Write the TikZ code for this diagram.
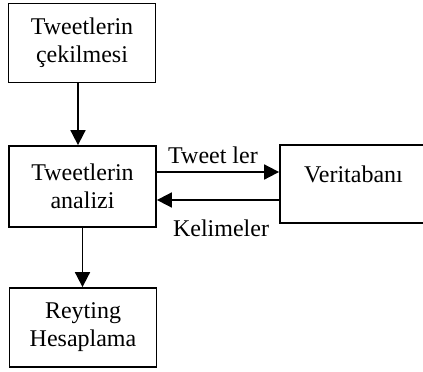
\documentclass[tikz,border=0pt]{standalone}
\usepackage{fontspec}
\setmainfont{Liberation Serif}
\usetikzlibrary{arrows.meta,calc}
\begin{document}
\begin{tikzpicture}[x=1pt,y=-1pt,
  txt/.style={font=\fontsize{24}{28}\selectfont, inner sep=0pt},
  box/.style={draw, line width=1.8pt, minimum width=147pt, minimum height=79pt, align=center, inner sep=0pt, font=\fontsize{24}{28}\selectfont},
  arr/.style={line width=1.8pt, -{Triangle[length=15pt,width=15pt]}}]
\useasboundingbox (0,0) rectangle (423,372);
\node[box] (b1) at (82,43) {Tweetlerin\\çekilmesi};
\node[box, minimum height=81pt] (b2) at (82.5,186.5) {Tweetlerin\\analizi};
\node[box] (b4) at (83,327.5) {Reyting\\Hesaplama};
\node[box, minimum height=78pt] (db) at (353.5,184) {};
\node[txt, anchor=base] (dbt) at (353.5,182) {Veritabanı};
\draw[arr] ([xshift=-4pt]b1.south) -- ([xshift=-4pt]b1.south |- b2.north);
\draw[arr] (b2.south) -- (b2.south |- b4.north);
\draw[arr] ([yshift=14.5pt]b2.east) -- ([yshift=14.5pt]b2.east -| db.west);
\draw[arr] ([yshift=-16pt]db.west) -- ([yshift=-16pt]db.west -| b2.east);
\node[txt, anchor=base] (l1) at (213,163) {Tweet ler};
\node[txt, anchor=base] (l2) at (221,236) {Kelimeler};
\end{tikzpicture}
\end{document}
